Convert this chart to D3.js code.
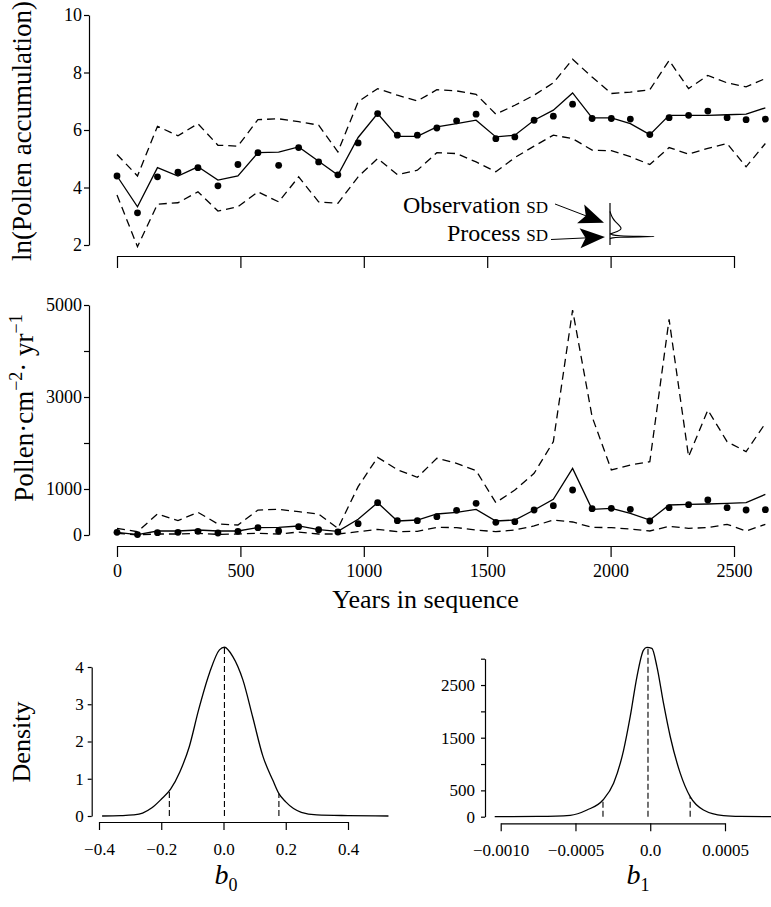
<!DOCTYPE html>
<html lang="en">
<head>
<meta charset="UTF-8">
<title>Pollen accumulation</title>
<style>
  body { margin: 0; background: #fff; }
  svg text { font-family: "Liberation Serif", "Times New Roman", serif; fill: #000; }
</style>
</head>
<body>
<script src="https://d3js.org/d3.v7.min.js"></script>
<script>
// sample ages (years in sequence)
var years = [0, 83, 164, 247, 328, 409, 490, 571, 655, 736, 817, 895, 977, 1056, 1136, 1217, 1296,
  1376, 1455, 1535, 1612, 1690, 1768, 1846, 1925, 2003, 2080, 2159, 2237, 2316, 2394, 2472, 2549, 2627];

// top panel, ln scale
var obsLn = [4.40, 3.12, 4.37, 4.53, 4.69, 4.06, 4.80, 5.21, 4.77, 5.39, 4.89, 4.44, 5.55, 6.57, 5.82, 5.82, 6.07,
  6.32, 6.55, 5.70, 5.76, 6.34, 6.48, 6.90, 6.40, 6.40, 6.38, 5.84, 6.43, 6.51, 6.66, 6.43, 6.36, 6.38];
var fitLn = [4.40, 3.33, 4.69, 4.40, 4.72, 4.26, 4.40, 5.21, 5.23, 5.41, 4.91, 4.43, 5.74, 6.57, 5.78, 5.78, 6.11,
  6.22, 6.34, 5.76, 5.82, 6.34, 6.69, 7.29, 6.42, 6.42, 6.22, 5.84, 6.51, 6.51, 6.51, 6.53, 6.55, 6.77];
var upLn = [5.15, 4.40, 6.13, 5.80, 6.22, 5.47, 5.44, 6.36, 6.39, 6.29, 6.17, 5.24, 6.98, 7.44, 7.21, 7.01, 7.40,
  7.36, 7.24, 6.55, 6.86, 7.21, 7.64, 8.46, 7.84, 7.27, 7.32, 7.40, 8.42, 7.44, 7.90, 7.64, 7.50, 7.79];
var loLn = [3.74, 1.94, 3.42, 3.47, 3.85, 3.18, 3.33, 3.85, 3.50, 4.37, 3.50, 3.45, 4.37, 5.01, 4.45, 4.60, 5.21,
  5.18, 4.89, 4.55, 5.04, 5.44, 5.82, 5.70, 5.30, 5.28, 5.07, 4.80, 5.39, 5.16, 5.36, 5.53, 4.72, 5.53];

// middle panel, pollen per cm2 per yr
var obsRaw = [58, 10, 51, 58, 80, 43, 80, 160, 87, 181, 116, 65, 246, 703, 312, 312, 399,
  536, 688, 275, 290, 543, 638, 978, 572, 580, 558, 304, 594, 659, 761, 594, 543, 551];
var fitRaw = [58, 7, 87, 87, 109, 87, 87, 160, 167, 196, 116, 80, 341, 703, 304, 326, 457,
  493, 558, 304, 326, 543, 775, 1449, 558, 580, 471, 326, 652, 667, 674, 688, 703, 884];
var upRaw = [145, 72, 457, 312, 493, 239, 217, 543, 558, 507, 457, 145, 1051, 1688, 1420, 1254, 1667,
  1558, 1398, 703, 978, 1340, 2029, 4891, 2572, 1413, 1522, 1594, 4688, 1703, 2717, 2029, 1812, 2427];
var loRaw = [36, 5, 22, 22, 36, 14, 22, 36, 22, 65, 22, 22, 72, 123, 72, 80, 167,
  160, 109, 72, 109, 196, 326, 283, 167, 160, 130, 87, 188, 145, 160, 232, 87, 232];

// posterior densities
var b0X = [-0.39, -0.33, -0.29, -0.26, -0.23, -0.20, -0.17, -0.14, -0.11, -0.08, -0.045, -0.013, 0.003, 0.03,
  0.062, 0.094, 0.126, 0.159, 0.178, 0.20, 0.225, 0.25, 0.30, 0.40, 0.53];
var b0Y = [0.0, 0.01, 0.03, 0.08, 0.22, 0.45, 0.72, 1.19, 1.86, 2.85, 3.84, 4.46, 4.53, 4.28,
  3.66, 2.65, 1.62, 0.95, 0.60, 0.38, 0.20, 0.10, 0.03, 0.01, 0.0];
var b0Q = [-0.174, 0.003, 0.178];

var b1X = [-0.00104, -0.00075, -0.000535, -0.000423, -0.000316, -0.000245, -0.000178, -0.000134, -0.000089,
  -0.000045, -0.000022, 0.000011, 0.000045, 0.000089, 0.000134, 0.000201, 0.000267, 0.000356, 0.00049, 0.000602, 0.00081];
var b1Y = [0, 5, 26, 127, 317, 634, 1265, 1898, 2657, 3163, 3214, 3195, 2846, 2150, 1518, 823, 380, 127, 20, 5, 0];
var b1Q = [-0.000316, -0.000015, 0.000267];

// inset: SD posteriors (relative units)
var obsSd = [0.80, 0.72, 0.64, 0.56, 0.50, 0.45, 0.40, 0.36, 0.32, 0.29, 0.26];
var obsSdDens = [0.0, 0.02, 0.05, 0.10, 0.15, 0.19, 0.22, 0.20, 0.14, 0.07, 0.0];
var procSd = [0.27, 0.24, 0.22, 0.205, 0.20, 0.195, 0.185, 0.17, 0.15];
var procSdDens = [0, 0.04, 0.15, 0.55, 1.0, 0.55, 0.15, 0.04, 0];

var xTicks = [0, 500, 1000, 1500, 2000, 2500];

var svg = d3.select("body").append("svg")
  .attr("width", 771)
  .attr("height", 907);

function styleAxis(g, size) {
  g.attr("font-family", "Liberation Serif").attr("font-size", size);
  g.selectAll("path, line").attr("stroke", "#000").attr("stroke-width", 1.2);
  g.selectAll("text").attr("fill", "#000");
}

function drawLine(xs, ys, sx, sy, dash, curve) {
  var line = d3.line()
    .x(function (d) { return sx(d[0]); })
    .y(function (d) { return sy(d[1]); });
  if (curve) line.curve(curve);
  svg.append("path")
    .datum(d3.zip(xs, ys))
    .attr("d", line)
    .attr("fill", "none")
    .attr("stroke", "#000")
    .attr("stroke-width", 1.3)
    .attr("stroke-dasharray", dash);
}

function drawDots(xs, ys, sx, sy) {
  svg.append("g").selectAll("circle")
    .data(d3.zip(xs, ys))
    .enter()
    .append("circle")
    .attr("cx", function (d) { return sx(d[0]); })
    .attr("cy", function (d) { return sy(d[1]); })
    .attr("r", 3.4)
    .attr("fill", "#000");
}

var x = d3.scaleLinear().domain([0, 2500]).range([117, 734]);

// ---------- top panel ----------
var yTop = d3.scaleLinear().domain([2, 10]).range([245, 15]);

svg.append("g")
  .attr("transform", "translate(0,256)")
  .call(d3.axisBottom(x).tickValues(xTicks).tickSize(12).tickSizeOuter(0).tickFormat(""))
  .call(styleAxis, 18);
svg.append("g")
  .attr("transform", "translate(89,0)")
  .call(d3.axisLeft(yTop).tickValues([2, 4, 6, 8, 10]).tickSize(5).tickPadding(2).tickSizeOuter(0)
    .tickFormat(d3.format("d")))
  .call(styleAxis, 18);

drawLine(years, upLn, x, yTop, "8,5");
drawLine(years, loLn, x, yTop, "8,5");
drawLine(years, fitLn, x, yTop, null);
drawDots(years, obsLn, x, yTop);

svg.append("text")
  .attr("transform", "translate(31,131) rotate(-90)")
  .attr("text-anchor", "middle")
  .attr("font-size", 27)
  .text("ln(Pollen accumulation)");

// inset with SD densities
var insetY = d3.scaleLinear().domain([0, 1]).range([245, 203]);
var insetX = d3.scaleLinear().domain([0, 1]).range([610, 662]);
svg.append("line")
  .attr("x1", insetX(0)).attr("x2", insetX(0))
  .attr("y1", insetY(0)).attr("y2", insetY(1))
  .attr("stroke", "#000").attr("stroke-width", 1.2);
var insetLine = d3.line()
  .x(function (d) { return insetX(d[1]); })
  .y(function (d) { return insetY(d[0]); })
  .curve(d3.curveBasis);
svg.append("path").datum(d3.zip(obsSd, obsSdDens)).attr("d", insetLine)
  .attr("fill", "none").attr("stroke", "#000").attr("stroke-width", 1.1);
svg.append("path").datum(d3.zip(procSd, procSdDens)).attr("d", insetLine)
  .attr("fill", "none").attr("stroke", "#000").attr("stroke-width", 1.1);

function arrow(x0, y0, x1, y1, len, half) {
  var dx = x1 - x0, dy = y1 - y0, d = Math.sqrt(dx * dx + dy * dy);
  var ux = dx / d, uy = dy / d, nx = -uy, ny = ux;
  svg.append("line")
    .attr("x1", x0).attr("y1", y0)
    .attr("x2", x1 - ux * len * 0.6).attr("y2", y1 - uy * len * 0.6)
    .attr("stroke", "#000").attr("stroke-width", 1);
  var p = [
    [x1, y1],
    [x1 - ux * len + nx * half, y1 - uy * len + ny * half],
    [x1 - ux * len * 0.78, y1 - uy * len * 0.78],
    [x1 - ux * len - nx * half, y1 - uy * len - ny * half]
  ];
  svg.append("path").attr("d", "M" + p.join("L") + "Z").attr("fill", "#000");
}

var obsLabel = svg.append("text")
  .attr("x", 548).attr("y", 213)
  .attr("text-anchor", "end")
  .attr("font-size", 24);
obsLabel.append("tspan").text("Observation ");
obsLabel.append("tspan").attr("font-size", 17).text("SD");

var procLabel = svg.append("text")
  .attr("x", 548).attr("y", 241)
  .attr("text-anchor", "end")
  .attr("font-size", 24);
procLabel.append("tspan").text("Process ");
procLabel.append("tspan").attr("font-size", 17).text("SD");

arrow(555, 204, insetX(0) - 6, insetY(0.53), 25, 10);
arrow(551, 239.5, insetX(0) - 5, insetY(0.19), 25, 10);

// ---------- middle panel ----------
var yMid = d3.scaleLinear().domain([0, 5000]).range([535, 305]);

svg.append("g")
  .attr("transform", "translate(0,546)")
  .call(d3.axisBottom(x).tickValues(xTicks).tickSize(11).tickPadding(7).tickSizeOuter(0)
    .tickFormat(d3.format("d")))
  .call(styleAxis, 18);
svg.append("g")
  .attr("transform", "translate(89,0)")
  .call(d3.axisLeft(yMid).tickValues([0, 1000, 2000, 3000, 4000, 5000]).tickSize(5).tickPadding(2).tickSizeOuter(0)
    .tickFormat(function (d) { return (d === 2000 || d === 4000) ? "" : d; }))
  .call(styleAxis, 18);

drawLine(years, upRaw, x, yMid, "8,5");
drawLine(years, loRaw, x, yMid, "8,5");
drawLine(years, fitRaw, x, yMid, null);
drawDots(years, obsRaw, x, yMid);

var midLabel = svg.append("text")
  .attr("transform", "translate(33,408) rotate(-90)")
  .attr("text-anchor", "middle")
  .attr("font-size", 27);
midLabel.append("tspan").text("Pollen\u00b7cm");
midLabel.append("tspan").attr("font-size", 18).attr("dy", -11).text("\u22122");
midLabel.append("tspan").attr("dy", 11).text("\u00b7 yr");
midLabel.append("tspan").attr("font-size", 18).attr("dy", -11).text("\u22121");

svg.append("text")
  .attr("x", 425.5).attr("y", 608)
  .attr("text-anchor", "middle")
  .attr("font-size", 26)
  .text("Years in sequence");

// ---------- bottom panels ----------
function interp(xs, ys, v) {
  var i = d3.bisectLeft(xs, v);
  if (i <= 0) return ys[0];
  if (i >= xs.length) return ys[ys.length - 1];
  var t = (v - xs[i - 1]) / (xs[i] - xs[i - 1]);
  return ys[i - 1] + t * (ys[i] - ys[i - 1]);
}

function quantLines(qs, xs, ys, sx, sy) {
  svg.append("g").selectAll("line")
    .data(qs)
    .enter()
    .append("line")
    .attr("x1", function (d) { return sx(d); })
    .attr("x2", function (d) { return sx(d); })
    .attr("y1", sy(0))
    .attr("y2", function (d) { return sy(interp(xs, ys, d)); })
    .attr("stroke", "#000")
    .attr("stroke-width", 1.1)
    .attr("stroke-dasharray", "6,3");
}

// b0
var xB0 = d3.scaleLinear().domain([-0.4, 0.4]).range([99, 348]);
var yB0 = d3.scaleLinear().domain([0, 4]).range([816, 667]);
svg.append("g")
  .attr("transform", "translate(0,822)")
  .call(d3.axisBottom(xB0).tickValues([-0.4, -0.2, 0, 0.2, 0.4]).tickSize(8).tickPadding(13).tickSizeOuter(0)
    .tickFormat(d3.format(".1f")))
  .call(styleAxis, 17);
svg.append("g")
  .attr("transform", "translate(91.7,0)")
  .call(d3.axisLeft(yB0).tickValues([0, 1, 2, 3, 4]).tickSize(4).tickPadding(4).tickSizeOuter(0)
    .tickFormat(d3.format("d")))
  .call(styleAxis, 17);
drawLine(b0X, b0Y, xB0, yB0, null, d3.curveMonotoneX);
quantLines(b0Q, b0X, b0Y, xB0, yB0);

svg.append("text")
  .attr("transform", "translate(30,742) rotate(-90)")
  .attr("text-anchor", "middle")
  .attr("font-size", 26)
  .text("Density");

var b0Label = svg.append("text")
  .attr("x", 226).attr("y", 884)
  .attr("text-anchor", "middle")
  .attr("font-size", 28);
b0Label.append("tspan").attr("font-style", "italic").text("b");
b0Label.append("tspan").attr("font-size", 18).attr("dy", 7).text("0");

// b1
var xB1 = d3.scaleLinear().domain([-0.001, 0.0005]).range([500.7, 725]);
var yB1 = d3.scaleLinear().domain([0, 3000]).range([816.7, 658.7]);
var b1Fmt = { "-0.001": "\u22120.0010", "-0.0005": "\u22120.0005", "0": "0.0", "0.0005": "0.0005" };
svg.append("g")
  .attr("transform", "translate(0,823.3)")
  .call(d3.axisBottom(xB1).tickValues([-0.001, -0.0005, 0, 0.0005]).tickSize(8).tickPadding(13).tickSizeOuter(0)
    .tickFormat(function (d) { return b1Fmt[String(d)]; }))
  .call(styleAxis, 17);
svg.append("g")
  .attr("transform", "translate(485,0)")
  .call(d3.axisLeft(yB1).tickValues([0, 500, 1000, 1500, 2000, 2500, 3000]).tickSize(4).tickPadding(6).tickSizeOuter(0)
    .tickFormat(function (d) { return (d === 0 || d === 500 || d === 1500 || d === 2500) ? d : ""; }))
  .call(styleAxis, 17);
drawLine(b1X, b1Y, xB1, yB1, null, d3.curveMonotoneX);
quantLines(b1Q, b1X, b1Y, xB1, yB1);

var b1Label = svg.append("text")
  .attr("x", 638).attr("y", 884)
  .attr("text-anchor", "middle")
  .attr("font-size", 28);
b1Label.append("tspan").attr("font-style", "italic").text("b");
b1Label.append("tspan").attr("font-size", 18).attr("dy", 7).text("1");
</script>
</body>
</html>
